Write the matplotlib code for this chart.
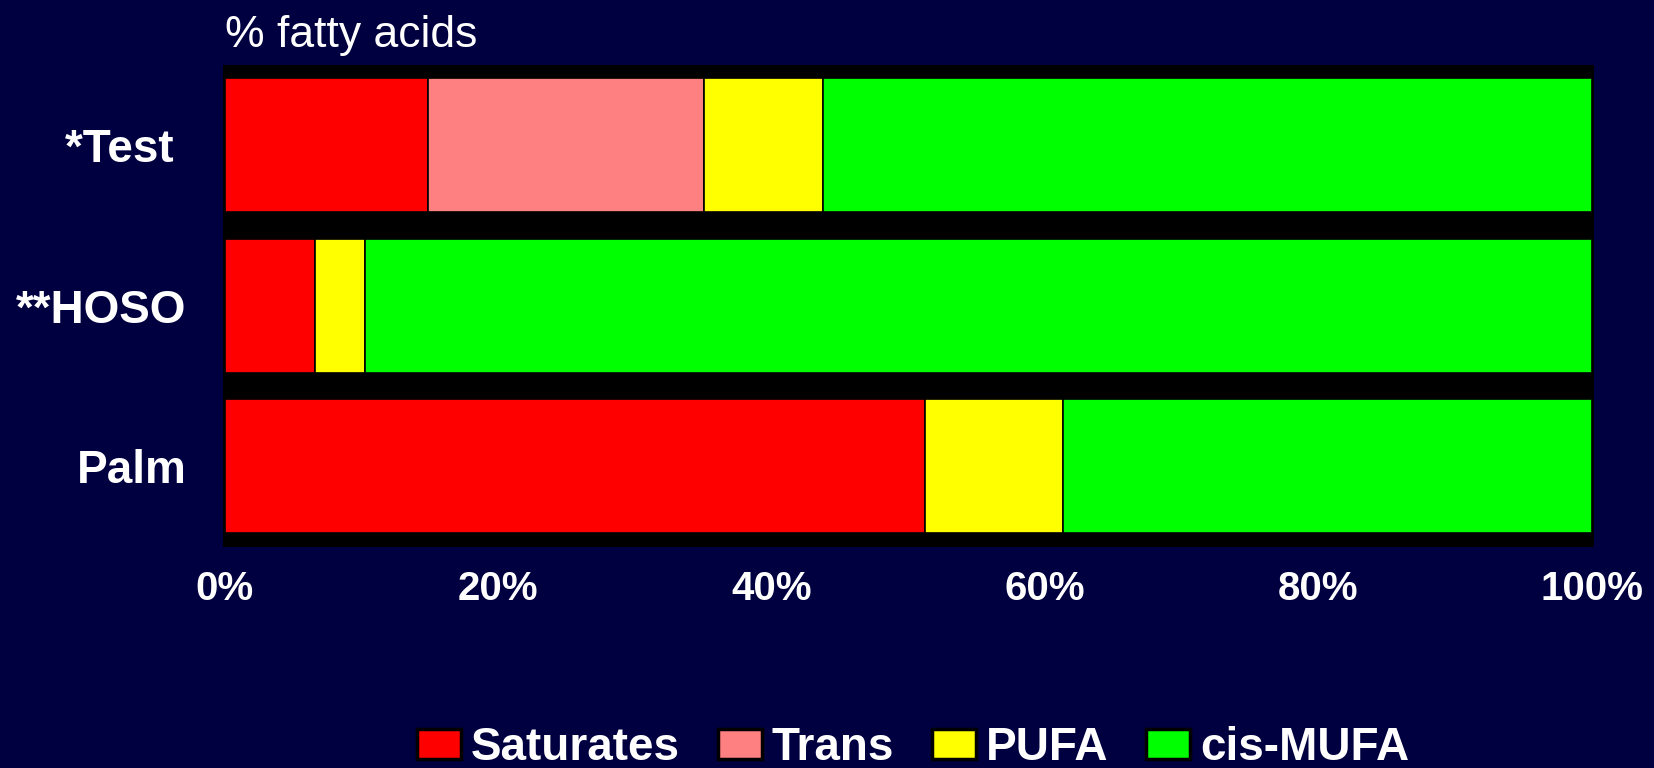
import matplotlib
matplotlib.use("Agg")
import matplotlib.pyplot as plt
import numpy as np

plt.rcParams["font.family"] = ["Liberation Sans", "DejaVu Sans"]

# composition of each oil, % of total fatty acids
oils = ["*Test ", "**HOSO", "Palm"]
saturates = [14.9, 6.6, 51.2]
trans = [20.2, 0.0, 0.0]
pufa = [8.7, 3.7, 10.1]
cis_mufa = [56.2, 89.7, 38.7]

series_names = ["Saturates", "Trans", "PUFA", "cis-MUFA"]
series_colors = ["#ff0000", "#ff8080", "#ffff00", "#00ff00"]
x_ticks = [0, 20, 40, 60, 80, 100]

BG = "#000040"

fig = plt.figure(figsize=(16.54, 7.68), dpi=100, facecolor=BG)
ax = fig.add_axes([0.1346, 0.2882, 0.8289, 0.6272])
ax.set_facecolor("black")

ypos = np.arange(len(oils))[::-1]
left = np.zeros(len(oils))
for name, vals, color in zip(series_names, [saturates, trans, pufa, cis_mufa], series_colors):
    vals = np.array(vals, dtype=float)
    ax.barh(ypos, vals, left=left, height=0.835, color=color,
            edgecolor="black", linewidth=1.2, label=name)
    left += vals

ax.set_xlim(-0.15, 100.15)
ax.set_ylim(-0.5, 2.5)
ax.set_yticks(ypos)
ax.set_yticklabels(oils, fontsize=33, fontweight="bold", color="white")
ax.set_xticks(x_ticks)
ax.set_xticklabels([f"{t}%" for t in x_ticks], fontsize=29, fontweight="bold", color="white")
ax.tick_params(axis="y", length=0, pad=26)
ax.tick_params(axis="x", length=0, pad=17)
for s in ax.spines.values():
    s.set_visible(False)

fig.text(224.7 / 1654, 1 - 46.5 / 768, "% fatty acids", fontsize=32,
         color="white", ha="left", va="baseline")

leg = fig.legend(loc="center", bbox_to_anchor=(0.552, 1 - 748 / 768), ncol=4,
                 frameon=False, borderpad=0, handlelength=0.96, handleheight=0.64,
                 handletextpad=0.22, columnspacing=0.82,
                 prop={"size": 33, "weight": "bold"})
for t in leg.get_texts():
    t.set_color("white")
for h in leg.legend_handles:
    h.set_linewidth(2.5)

fig.savefig("out.png", dpi=100, facecolor=BG)
